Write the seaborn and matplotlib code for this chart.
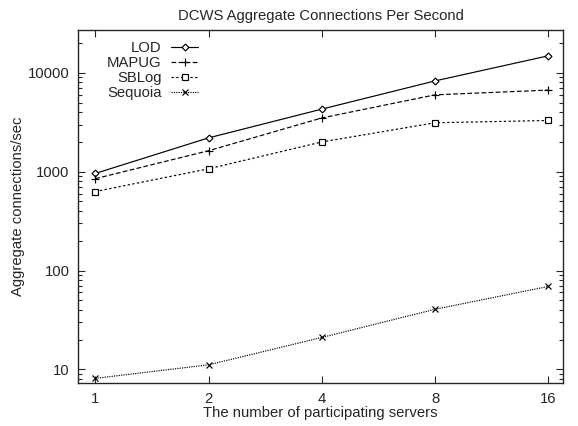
import numpy as np
import pandas as pd
import matplotlib
matplotlib.use('Agg')
import matplotlib.pyplot as plt
import seaborn as sns
from matplotlib.ticker import FixedLocator, NullFormatter, LogLocator

# Datos
servers = [1, 2, 4, 8, 16]
lod = [960, 2200, 4300, 8300, 14900]
mapug = [850, 1630, 3500, 6000, 6700]
sblog = [630, 1070, 2000, 3130, 3300]
sequoia = [8.1, 11.1, 21, 40.5, 69]

series_names = ['LOD', 'MAPUG', 'SBLog', 'Sequoia']
series_values = [lod, mapug, sblog, sequoia]

sns.set_style('ticks')
plt.rcParams['font.family'] = ['Liberation Sans', 'DejaVu Sans']

FS = 10.7

# estilos tipo gnuplot
styles = {
    'LOD': dict(linestyle='-', marker='D', markersize=3.5, markerfacecolor='white'),
    'MAPUG': dict(linestyle=(0, (4, 2)), marker='+', markersize=5.5),
    'SBLog': dict(linestyle=(0, (2, 2)), marker='s', markersize=4.5, markerfacecolor='white'),
    'Sequoia': dict(linestyle=(0, (1, 1)), marker='x', markersize=4.5),
}

df = pd.DataFrame({
    'servers': np.tile(servers, len(series_names)),
    'value': np.concatenate(series_values),
    'series': np.repeat(series_names, len(servers)),
})

fig, ax = plt.subplots(figsize=(5.78, 4.26), dpi=100)

for name in series_names:
    sub = df[df['series'] == name]
    sns.lineplot(data=sub, x='servers', y='value', ax=ax, color='black',
                 linewidth=0.85, markeredgecolor='black', markeredgewidth=0.85,
                 label=name, **styles[name])

ax.set_xscale('log', base=2)
ax.set_yscale('log')
ax.set_xlim(0.90, 17.5)
ax.set_ylim(7.2, 27300)

ax.xaxis.set_major_locator(FixedLocator(servers))
ax.set_xticklabels([str(s) for s in servers])
ax.xaxis.set_minor_formatter(NullFormatter())
ax.xaxis.set_minor_locator(FixedLocator([]))
ax.yaxis.set_major_locator(FixedLocator([10, 100, 1000, 10000]))
ax.set_yticklabels(['10', '100', '1000', '10000'])
ax.yaxis.set_minor_locator(LogLocator(base=10, subs=np.arange(2, 10)))
ax.yaxis.set_minor_formatter(NullFormatter())

ax.tick_params(which='both', direction='in', top=True, right=True, labelsize=FS, pad=6)
ax.tick_params(which='major', length=5, width=0.8)
ax.tick_params(which='minor', length=3, width=0.8)
for sp in ax.spines.values():
    sp.set_linewidth(1.0)
    sp.set_visible(True)

ax.set_title('DCWS Aggregate Connections Per Second', fontsize=FS, pad=7)
ax.set_xlabel('The number of participating servers', fontsize=FS, labelpad=0)
ax.set_ylabel('Aggregate connections/sec', fontsize=FS, labelpad=2)

# leyenda a la gnuplot: texto a la derecha, muestra despues
ax.legend(loc='upper left', bbox_to_anchor=(29 / 485, 0.967), frameon=False,
          markerfirst=False, handlelength=1.8, fontsize=FS, labelspacing=0.05,
          borderaxespad=0.0, borderpad=0.0, handletextpad=0.65)

fig.subplots_adjust(left=0.135, right=0.974, top=0.93, bottom=0.10)
fig.savefig('out.png', dpi=100)
